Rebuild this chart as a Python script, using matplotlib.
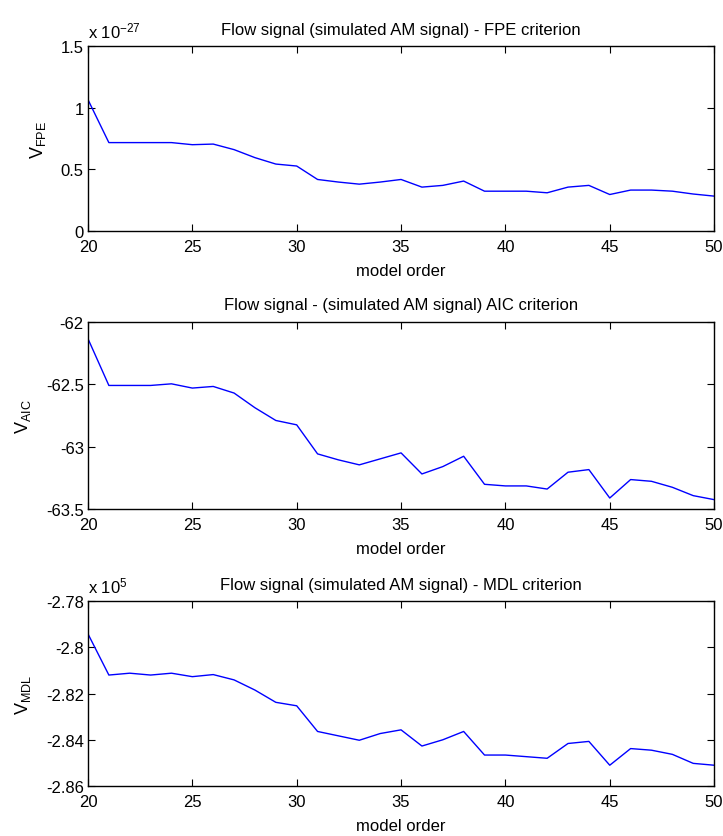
import numpy as np
import matplotlib
matplotlib.use('Agg')
import matplotlib.pyplot as plt
from matplotlib import font_manager

order = np.arange(20, 51)

# FPE values, in units of 1e-27
fpe = [1.065, 0.717, 0.717, 0.717, 0.717, 0.700, 0.705, 0.660, 0.595, 0.543,
       0.527, 0.418, 0.397, 0.380, 0.397, 0.418, 0.356, 0.370, 0.405, 0.323,
       0.323, 0.323, 0.310, 0.356, 0.370, 0.296, 0.332, 0.332, 0.323, 0.300,
       0.283]
aic = [-62.134, -62.509, -62.509, -62.509, -62.496, -62.530, -62.517, -62.570,
       -62.688, -62.790, -62.825, -63.058, -63.106, -63.146, -63.098, -63.050,
       -63.219, -63.160, -63.077, -63.302, -63.315, -63.315, -63.340, -63.205,
       -63.184, -63.412, -63.264, -63.278, -63.326, -63.393, -63.425]
# MDL values, in units of 1e5
mdl = [-2.7942, -2.8120, -2.8112, -2.8120, -2.8112, -2.8127, -2.8118, -2.8141,
       -2.8185, -2.8238, -2.8253, -2.8364, -2.8383, -2.8402, -2.8373, -2.8357,
       -2.8427, -2.8400, -2.8364, -2.8466, -2.8466, -2.8473, -2.8480, -2.8416,
       -2.8407, -2.8510, -2.8438, -2.8445, -2.8463, -2.8502, -2.8510]

titles = ['Flow signal (simulated AM signal) - FPE criterion',
          'Flow signal - (simulated AM signal) AIC criterion',
          'Flow signal (simulated AM signal) - MDL criterion']
ylabels = [r'V$_{\mathrm{FPE}}$', r'V$_{\mathrm{AIC}}$', r'V$_{\mathrm{MDL}}$']
yticks = [[0, 0.5, 1, 1.5], [-63.5, -63, -62.5, -62], [-2.86, -2.84, -2.82, -2.8, -2.78]]
yticklabels = [['0', '0.5', '1', '1.5'], ['-63.5', '-63', '-62.5', '-62'],
               ['-2.86', '-2.84', '-2.82', '-2.8', '-2.78']]
offsets = [r'x 10$^{-27}$', None, r'x 10$^{5}$']

names = [f.name for f in font_manager.fontManager.ttflist]
fam = 'Liberation Sans Narrow' if 'Liberation Sans Narrow' in names else 'Liberation Sans'
plt.rcParams['font.family'] = [fam, 'DejaVu Sans']
plt.rcParams['mathtext.fontset'] = 'custom'
plt.rcParams['mathtext.rm'] = fam
plt.rcParams['mathtext.it'] = fam
plt.rcParams['font.size'] = 12

fig = plt.figure(figsize=(7.23, 8.37), dpi=100)
rects = [[0.1217, 0.7228, 0.866, 0.221],
         [0.1217, 0.3907, 0.866, 0.2234],
         [0.1217, 0.0597, 0.866, 0.221]]
data = [fpe, aic, mdl]

for i in range(3):
    ax = fig.add_axes(rects[i])
    ax.plot(order, data[i], color='#0000ff', lw=1)
    ax.set_xlim(20, 50)
    ax.set_ylim(yticks[i][0], yticks[i][-1])
    ax.set_xticks(range(20, 51, 5))
    ax.set_yticks(yticks[i])
    ax.set_yticklabels(yticklabels[i])
    ax.tick_params(direction='in', top=True, right=True, length=5, labelsize=12)
    ax.tick_params(axis='x', pad=6)
    ax.tick_params(axis='y', pad=3)
    ax.set_xlabel('model order', fontsize=12, labelpad=6)
    ax.set_ylabel(ylabels[i], fontsize=13, labelpad=9)
    ax.set_title(titles[i], fontsize=12, pad=9)
    for s in ax.spines.values():
        s.set_linewidth(1)
    if offsets[i]:
        ax.text(0.0, 1.03, offsets[i], transform=ax.transAxes, fontsize=12,
                ha='left', va='bottom')

fig.savefig('out.png', dpi=100)
